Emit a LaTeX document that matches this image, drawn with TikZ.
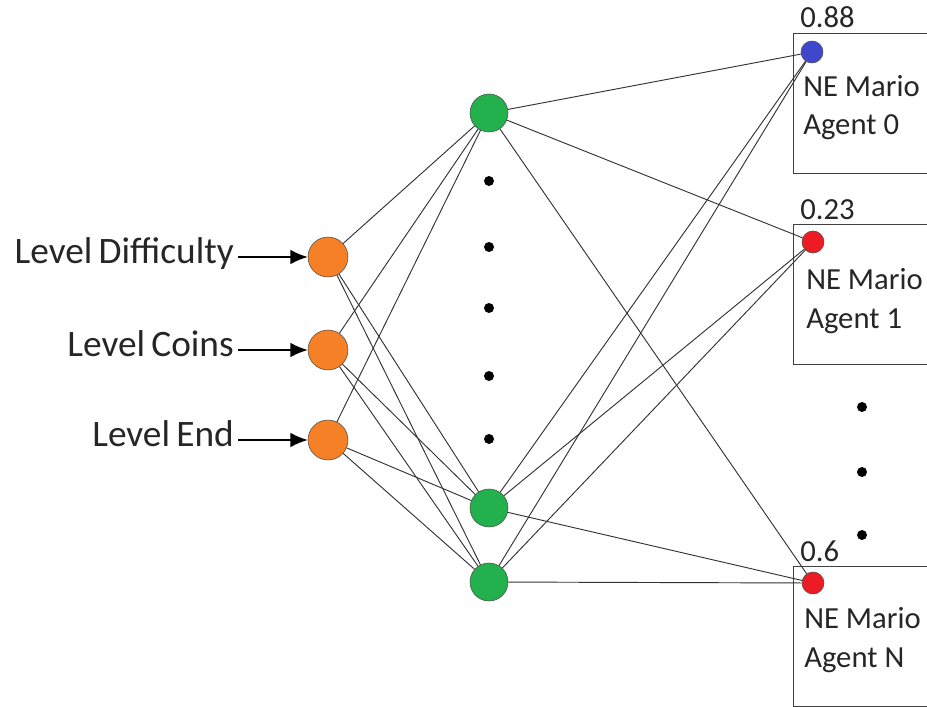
\documentclass[tikz,border=0pt]{standalone}
\usepackage{fontspec}
\setmainfont{Carlito}
\usepackage{tikz}
\usetikzlibrary{arrows.meta}

\definecolor{inorange}{RGB}{245,128,37}
\definecolor{hidgreen}{RGB}{34,177,76}
\definecolor{outblue}{RGB}{63,72,204}
\definecolor{outred}{RGB}{237,28,36}

\begin{document}
\begin{tikzpicture}[
    x=0.75pt, y=-0.75pt,
    font=\fontsize{23}{29}\selectfont,
    input/.style={circle, draw=black!70, fill=inorange, minimum size=30pt, inner sep=0pt},
    hidden/.style={circle, draw=black!70, fill=hidgreen, minimum size=28.5pt, inner sep=0pt},
    output/.style={circle, draw=black!70, minimum size=16.5pt, inner sep=0pt},
    agent/.style={rectangle, draw=black!75, line width=1pt, minimum width=120pt, minimum height=105pt, inner sep=0pt},
    feature/.style={text=black!85, font=\fontsize{28}{32}\selectfont, text height=2ex, text depth=0pt, inner sep=3pt},
    dotnode/.style={circle, fill=black, minimum size=7.5pt, inner sep=0pt},
    edge/.style={draw=black!80, line width=0.7pt},
    feed/.style={draw=black, line width=1.2pt, -{Latex[length=13pt, width=11pt]}}
  ]
    \useasboundingbox (0,0) rectangle (927,706);

    % Entrees
    \node[input] (in1) at (328, 257) {};
    \node[input] (in2) at (328, 350) {};
    \node[input] (in3) at (328, 440) {};
    \node[feature, anchor=east] (f1) at (238, 257) {Level\,Difficulty};
    \node[feature, anchor=east] (f2) at (238, 350) {Level\,Coins};
    \node[feature, anchor=east] (f3) at (238, 440) {Level\,End};
    \draw[feed] (f1) -- (in1);
    \draw[feed] (f2) -- (in2);
    \draw[feed] (f3) -- (in3);

    % Couche cachee
    \node[hidden] (h1) at (489, 113) {};
    \node[hidden] (h2) at (489, 508) {};
    \node[hidden] (h3) at (489, 582) {};
    \foreach \y [count=\k] in {181, 247, 308, 376, 439}
      \node[dotnode] (hd\k) at (489, \y) {};

    % Agents
    \node[agent, anchor=north west] (box0) at (793, 33) {};
    \node[agent, anchor=north west] (box1) at (793, 224) {};
    \node[agent, anchor=north west] (boxN) at (793, 566) {};
    \node[output, fill=outblue] (o0) at ([shift={(19,19)}]box0.north west) {};
    \node[output, fill=outred] (o1) at ([shift={(20,18)}]box1.north west) {};
    \node[output, fill=outred] (oN) at ([shift={(20,17)}]boxN.north west) {};
    \node[anchor=base west, inner sep=0pt, text=black!85] (v0) at ([shift={(7,-5)}]box0.north west) {0.88};
    \node[anchor=base west, inner sep=0pt, text=black!85] (v1) at ([shift={(7,-5)}]box1.north west) {0.23};
    \node[anchor=base west, inner sep=0pt, text=black!85] (vN) at ([shift={(7,-5)}]boxN.north west) {0.6};
    \node[anchor=base west, align=left, inner sep=0pt, text=black!85] (t0) at ([shift={(10,102)}]box0.north west) {NE Mario\\Agent 0};
    \node[anchor=base west, align=left, inner sep=0pt, text=black!85] (t1) at ([shift={(13,104)}]box1.north west) {NE Mario\\Agent 1};
    \node[anchor=base west, align=left, inner sep=0pt, text=black!85] (tN) at ([shift={(11,101)}]boxN.north west) {NE Mario\\Agent N};
    \foreach \y [count=\k] in {407, 472, 535}
      \node[dotnode] (od\k) at (862, \y) {};

    % Connexions
    \foreach \i in {1,2,3}
      \foreach \h in {h1,h2,h3}
        \draw[edge] (in\i) -- (\h);
    \foreach \h in {h1,h2,h3}
      \foreach \o in {o0,o1,oN}
        \draw[edge] (\h) -- (\o);
  \end{tikzpicture}
\end{document}
